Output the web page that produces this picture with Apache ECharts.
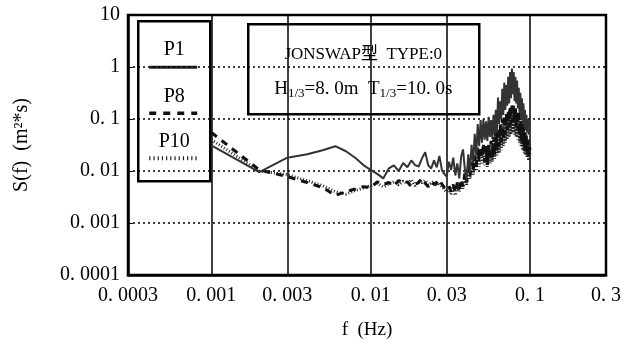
<!DOCTYPE html>
<html>
<head>
<meta charset="utf-8">
<script src="https://cdn.jsdelivr.net/npm/echarts@6/dist/echarts.min.js"></script>
<style>
  html, body { margin: 0; padding: 0; background: #fff; }
  #chart { width: 631px; height: 349px; }
</style>
</head>
<body>
<div id="chart"></div>
<script>
// 周波数 (Hz)
const freq = [
  0.001, 0.002, 0.003, 0.004, 0.005, 0.006, 0.007, 0.008, 0.009, 0.010,
  0.011, 0.012, 0.013, 0.014, 0.015, 0.016, 0.017, 0.018, 0.019, 0.020,
  0.021, 0.022, 0.023, 0.024, 0.025, 0.026, 0.027, 0.028, 0.029, 0.030,
  0.031, 0.032, 0.033, 0.034, 0.035, 0.036, 0.037, 0.038, 0.039, 0.040,
  0.041, 0.042, 0.043, 0.044, 0.045, 0.046, 0.047, 0.048, 0.049, 0.050,
  0.051, 0.052, 0.053, 0.054, 0.055, 0.056, 0.057, 0.058, 0.059, 0.060,
  0.061, 0.062, 0.063, 0.064, 0.065, 0.066, 0.067, 0.068, 0.069, 0.070,
  0.071, 0.072, 0.073, 0.074, 0.075, 0.076, 0.077, 0.078, 0.079, 0.080,
  0.081, 0.082, 0.083, 0.084, 0.085, 0.086, 0.087, 0.088, 0.089, 0.090,
  0.091, 0.092, 0.093, 0.094, 0.095, 0.096, 0.097, 0.098, 0.099, 0.100
];

// P1 (実線)
const p1 = [
  0.031, 0.0095, 0.018, 0.021, 0.025, 0.030, 0.024, 0.018, 0.013, 0.0105,
  0.0088, 0.0072, 0.0112, 0.0128, 0.0100, 0.0142, 0.0118, 0.0160, 0.0130, 0.0122,
  0.0175, 0.0230, 0.0128, 0.0112, 0.0160, 0.0118, 0.0195, 0.0105, 0.0088, 0.0078,
  0.0150, 0.0105, 0.0180, 0.0082, 0.0140, 0.0072, 0.0190, 0.0260, 0.0110, 0.0068,
  0.0210, 0.0095, 0.0320, 0.0140, 0.0520, 0.0200, 0.0800, 0.0300, 0.0950, 0.0350,
  0.100, 0.040, 0.090, 0.038, 0.110, 0.045, 0.095, 0.042, 0.120, 0.050,
  0.150, 0.055, 0.260, 0.080, 0.220, 0.100, 0.380, 0.120, 0.500, 0.150,
  0.450, 0.180, 0.650, 0.200, 0.800, 0.250, 0.930, 0.300, 0.800, 0.220,
  0.650, 0.200, 0.550, 0.160, 0.400, 0.130, 0.320, 0.100, 0.250, 0.080,
  0.200, 0.070, 0.150, 0.060, 0.120, 0.055, 0.100, 0.050, 0.090, 0.080
];

// P8 (破線)
const p8 = [
  0.055, 0.0105, 0.0078, 0.0060, 0.0048, 0.0034, 0.0040, 0.0045, 0.0050, 0.0048,
  0.0062, 0.0055, 0.0060, 0.0052, 0.0066, 0.0058, 0.0062, 0.0050, 0.0056, 0.0060,
  0.0072, 0.0058, 0.0050, 0.0062, 0.0055, 0.0060, 0.0068, 0.0056, 0.0048, 0.0045,
  0.0052, 0.0040, 0.0055, 0.0038, 0.0060, 0.0045, 0.0070, 0.0050, 0.0090, 0.0060,
  0.0120, 0.0080, 0.0150, 0.0100, 0.0200, 0.0120, 0.0280, 0.0150, 0.0300, 0.0180,
  0.035, 0.015, 0.030, 0.013, 0.032, 0.016, 0.038, 0.018, 0.045, 0.020,
  0.060, 0.025, 0.070, 0.030, 0.080, 0.035, 0.100, 0.040, 0.120, 0.050,
  0.130, 0.060, 0.150, 0.070, 0.180, 0.080, 0.200, 0.090, 0.180, 0.080,
  0.160, 0.070, 0.140, 0.060, 0.150, 0.050, 0.120, 0.040, 0.100, 0.035,
  0.080, 0.030, 0.060, 0.025, 0.050, 0.022, 0.040, 0.020, 0.030, 0.025
];

// P10 (点線)
const p10 = [
  0.040, 0.0100, 0.0085, 0.0065, 0.0052, 0.0040, 0.0036, 0.0042, 0.0047, 0.0052,
  0.0058, 0.0050, 0.0056, 0.0062, 0.0054, 0.0064, 0.0057, 0.0068, 0.0052, 0.0063,
  0.0060, 0.0066, 0.0054, 0.0058, 0.0064, 0.0052, 0.0060, 0.0050, 0.0044, 0.0040,
  0.0046, 0.0036, 0.0050, 0.0034, 0.0052, 0.0040, 0.0060, 0.0046, 0.0075, 0.0052,
  0.0100, 0.0070, 0.0130, 0.0085, 0.0170, 0.0100, 0.0220, 0.0120, 0.0250, 0.0140,
  0.030, 0.013, 0.028, 0.012, 0.030, 0.014, 0.033, 0.015, 0.040, 0.017,
  0.050, 0.020, 0.055, 0.022, 0.065, 0.025, 0.080, 0.030, 0.100, 0.035,
  0.110, 0.040, 0.130, 0.045, 0.150, 0.050, 0.170, 0.055, 0.150, 0.050,
  0.130, 0.045, 0.120, 0.040, 0.110, 0.035, 0.100, 0.030, 0.080, 0.025,
  0.070, 0.022, 0.055, 0.020, 0.045, 0.018, 0.035, 0.016, 0.025, 0.020
];

// 目盛
const xTicks = [0.0003, 0.001, 0.003, 0.01, 0.03, 0.1, 0.3];
const xTickLabels = ['0. 0003', '0. 001', '0. 003', '0. 01', '0. 03', '0. 1', '0. 3'];
const yTicks = [0.0001, 0.001, 0.01, 0.1, 1, 10];
const yTickLabels = ['0. 0001', '0. 001', '0. 01', '0. 1', '1', '10'];

const FONT = '"Liberation Serif", "Noto Sans CJK JP", serif';

function pick(v, ticks, labels) {
  let best = 0;
  ticks.forEach((t, i) => {
    if (Math.abs(Math.log10(t) - Math.log10(v)) < Math.abs(Math.log10(ticks[best]) - Math.log10(v))) best = i;
  });
  return labels[best];
}

function pairs(ys) {
  return freq.map((f, i) => [f, ys[i]]);
}

let chart = echarts.init(document.getElementById('chart'), null, { renderer: 'canvas' });

chart.setOption({
  animation: false,
  backgroundColor: '#fff',
  grid: {
    left: 128, top: 15, width: 478, height: 260,
    show: true, borderColor: '#000', borderWidth: 2.5, backgroundColor: 'transparent'
  },
  xAxis: {
    type: 'log',
    logBase: 10,
    min: 0.0003,
    max: 0.3,
    name: 'f  (Hz)',
    nameLocation: 'middle',
    nameGap: 46,
    nameTextStyle: { fontFamily: FONT, fontSize: 19, color: '#000' },
    axisLine: { show: true, lineStyle: { color: '#000', width: 2.5 } },
    axisTick: { show: false, customValues: xTicks },
    axisLabel: {
      customValues: xTicks,
      formatter: v => pick(v, xTicks, xTickLabels),
      fontFamily: FONT, fontSize: 20, color: '#000', margin: 11
    },
    splitLine: { show: true, lineStyle: { color: '#000', width: 1.5, type: 'solid' } }
  },
  yAxis: {
    type: 'log',
    logBase: 10,
    min: 0.0001,
    max: 10,
    name: 'S(f)  (m²*s)',
    nameLocation: 'middle',
    nameGap: 96,
    nameRotate: 90,
    nameTextStyle: { fontFamily: FONT, fontSize: 20, color: '#000' },
    axisLine: { show: true, lineStyle: { color: '#000', width: 2.5 } },
    axisTick: { show: true, inside: true, length: 5, lineStyle: { color: '#000' } },
    axisLabel: {
      formatter: v => pick(v, yTicks, yTickLabels),
      fontFamily: FONT, fontSize: 20, color: '#000', margin: 8
    },
    splitLine: { show: true, lineStyle: { color: '#000', width: 1.5, type: [2, 3] } }
  },
  series: [
    {
      name: 'P10', type: 'line', data: pairs(p10), symbol: 'none', z: 2,
      lineStyle: { color: '#222', width: 3, type: [1, 2] }
    },
    {
      name: 'P8', type: 'line', data: pairs(p8), symbol: 'none', z: 3,
      lineStyle: { color: '#111', width: 3, type: [7, 6] }
    },
    {
      name: 'P1', type: 'line', data: pairs(p1), symbol: 'none', z: 4,
      lineStyle: { color: '#333', width: 2, type: 'solid' }
    }
  ],
  graphic: [
    // 凡例
    {
      type: 'group', left: 137, top: 20, z: 100,
      children: [
        { type: 'rect', shape: { x: 0, y: 0, width: 72, height: 160 },
          style: { fill: '#fff', stroke: '#000', lineWidth: 2.5 } },
        { type: 'text', x: 36, y: 28, style: { text: 'P1', font: '20px ' + FONT, fill: '#000', align: 'center', verticalAlign: 'middle' } },
        { type: 'line', shape: { x1: 11, y1: 46, x2: 59, y2: 46 }, style: { stroke: '#222', lineWidth: 3 } },
        { type: 'text', x: 36, y: 75, style: { text: 'P8', font: '20px ' + FONT, fill: '#000', align: 'center', verticalAlign: 'middle' } },
        { type: 'line', shape: { x1: 11, y1: 92, x2: 59, y2: 92 }, style: { stroke: '#111', lineWidth: 3.5, lineDash: [7, 7] } },
        { type: 'text', x: 36, y: 120, style: { text: 'P10', font: '20px ' + FONT, fill: '#000', align: 'center', verticalAlign: 'middle' } },
        { type: 'line', shape: { x1: 11, y1: 137, x2: 59, y2: 137 }, style: { stroke: '#222', lineWidth: 4, lineDash: [1.2, 3] } }
      ]
    },
    // 条件
    {
      type: 'group', left: 247, top: 23, z: 100,
      children: [
        { type: 'rect', shape: { x: 0, y: 0, width: 231, height: 90 },
          style: { fill: '#fff', stroke: '#000', lineWidth: 2.5 } },
        { type: 'text', x: 115, y: 30,
          style: { text: 'JONSWAP型  TYPE:0', font: '17px ' + FONT, fill: '#000', align: 'center', verticalAlign: 'middle' } },
        { type: 'text', x: 115, y: 65,
          style: {
            text: 'H{s|1/3}=8. 0m  T{s|1/3}=10. 0s',
            font: '19px ' + FONT, fill: '#000', align: 'center', verticalAlign: 'middle',
            rich: { s: { fontFamily: FONT, fontSize: 13, verticalAlign: 'bottom', padding: [9, 0, 0, 0] } }
          } }
      ]
    }
  ]
});
</script>
</body>
</html>
